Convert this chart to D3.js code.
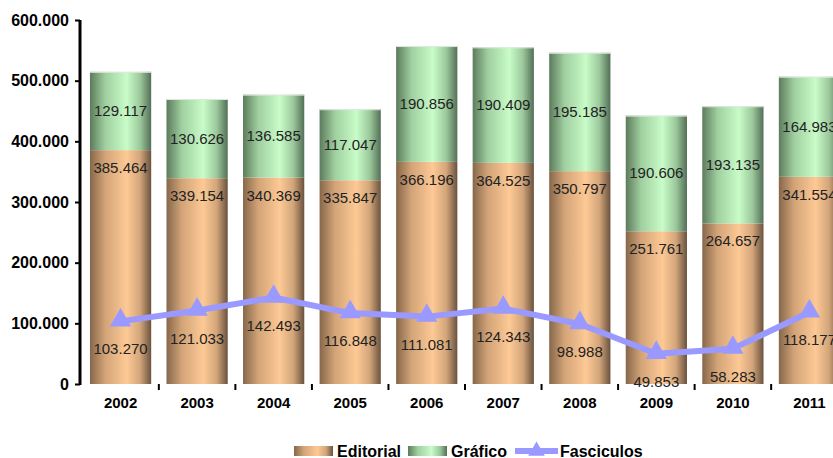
<!DOCTYPE html>
<html>
<head>
<meta charset="utf-8">
<script src="https://cdn.jsdelivr.net/npm/d3@7"></script>
<style>
body { margin: 0; background: #fff; }
text { font-family: "Liberation Sans", Arial, sans-serif; }
</style>
</head>
<body>
<div id="vis"></div>
<script>
var w = 833;
var h = 458;

var years = ["2002", "2003", "2004", "2005", "2006", "2007", "2008", "2009", "2010", "2011"];
var editorial = [385464, 339154, 340369, 335847, 366196, 364525, 350797, 251761, 264657, 341554];
var grafico = [129117, 130626, 136585, 117047, 190856, 190409, 195185, 190606, 193135, 164983];
var fasciculos = [103270, 121033, 142493, 116848, 111081, 124343, 98988, 49853, 58283, 118177];
var yticks = [0, 100000, 200000, 300000, 400000, 500000, 600000];
var series = ["Editorial", "Gráfico", "Fasciculos"];

var loc = d3.formatLocale({decimal: ",", thousands: ".", grouping: [3], currency: ["", ""]});
var fmt = loc.format(",d");

var svg = d3.select("#vis")
    .append("svg")
    .attr("width", w)
    .attr("height", h);

var defs = svg.append("defs");
function grad(id, stops) {
	var g = defs.append("linearGradient").attr("id", id)
		.attr("x1", 0).attr("x2", 1).attr("y1", 0).attr("y2", 0);
	stops.forEach(function(s) {
		g.append("stop").attr("offset", s[0]).attr("stop-color", s[1]);
	});
}
grad("gEd", [[0, "#86674a"], [0.25, "#d3a478"], [0.6, "#fdc995"], [0.82, "#d2a57a"], [1, "#6a523e"]]);
grad("gGr", [[0, "#5c7b5c"], [0.25, "#a0cfa0"], [0.6, "#c8fcc8"], [0.82, "#9cc89c"], [1, "#536f56"]]);

var x = d3.scaleBand()
	.domain(years)
	.range([80, 850])
	.paddingInner(0.2)
	.paddingOuter(0.13);

var y = d3.scaleLinear()
	.domain([0, 600000])
	.range([384, 20]);

var data = years.map(function(yr, i) {
	return {year: yr, ed: editorial[i], gr: grafico[i], fa: fasciculos[i]};
});

// bars
var g = svg.append("g");
g.selectAll(".ed")
	.data(data)
	.enter()
	.append("rect")
	.attr("x", function(d) { return x(d.year); })
	.attr("width", x.bandwidth())
	.attr("y", function(d) { return y(d.ed); })
	.attr("height", function(d) { return y(0) - y(d.ed); })
	.attr("fill", "url(#gEd)");

g.selectAll(".gr")
	.data(data)
	.enter()
	.append("rect")
	.attr("x", function(d) { return x(d.year); })
	.attr("width", x.bandwidth())
	.attr("y", function(d) { return y(d.ed + d.gr); })
	.attr("height", function(d) { return y(d.ed) - y(d.ed + d.gr); })
	.attr("fill", "url(#gGr)");

// top edge highlight
g.selectAll(".edge")
	.data(data)
	.enter()
	.append("line")
	.attr("x1", function(d) { return x(d.year); })
	.attr("x2", function(d) { return x(d.year) + x.bandwidth(); })
	.attr("y1", function(d) { return y(d.ed + d.gr) + 0.5; })
	.attr("y2", function(d) { return y(d.ed + d.gr) + 0.5; })
	.attr("stroke", "#dfe8df")
	.attr("stroke-width", 1);

// labels
g.selectAll(".lgr")
	.data(data)
	.enter()
	.append("text")
	.attr("x", function(d) { return x(d.year) + x.bandwidth() / 2; })
	.attr("y", function(d) { return (y(d.ed) + y(d.ed + d.gr)) / 2 + 5; })
	.attr("text-anchor", "middle")
	.style("font-size", "15px")
	.attr("fill", "#222")
	.text(function(d) { return fmt(d.gr); });

g.selectAll(".led")
	.data(data)
	.enter()
	.append("text")
	.attr("x", function(d) { return x(d.year) + x.bandwidth() / 2; })
	.attr("y", function(d) { return y(d.ed) + 23; })
	.attr("text-anchor", "middle")
	.style("font-size", "15px")
	.attr("fill", "#222")
	.text(function(d) { return fmt(d.ed); });

// line
var line = d3.line()
	.x(function(d) { return x(d.year) + x.bandwidth() / 2; })
	.y(function(d) { return y(d.fa); });

svg.append("path")
	.datum(data)
	.attr("d", line)
	.attr("fill", "none")
	.attr("stroke", "#9999ff")
	.attr("stroke-width", 6)
	.attr("stroke-linejoin", "round");

var tri = d3.symbol().type(d3.symbolTriangle).size(200);
svg.selectAll(".mk")
	.data(data)
	.enter()
	.append("path")
	.attr("d", tri)
	.attr("transform", function(d) { return "translate(" + (x(d.year) + x.bandwidth() / 2) + "," + (y(d.fa) - 1) + ")"; })
	.attr("fill", "#9999ff");

svg.selectAll(".lfa")
	.data(data)
	.enter()
	.append("text")
	.attr("x", function(d) { return x(d.year) + x.bandwidth() / 2; })
	.attr("y", function(d) { return y(d.fa) + 33; })
	.attr("text-anchor", "middle")
	.style("font-size", "15px")
	.attr("fill", "#222")
	.text(function(d) { return fmt(d.fa); });

// y axis
var yAxis = d3.axisLeft(y).tickValues(yticks).tickSize(5).tickFormat(function(d) { return fmt(d); });
var ya = svg.append("g")
	.attr("transform", "translate(80,0)")
	.call(yAxis);
ya.select(".domain").attr("stroke", "#000").attr("stroke-width", 3).attr("d", "M0,20V385");
ya.selectAll(".tick line").attr("stroke", "#000").attr("stroke-width", 2);
ya.selectAll(".tick text")
	.attr("x", -11)
	.style("font-size", "16px")
	.style("font-weight", "bold")
	.attr("fill", "#000")
	.style("font-family", "'Liberation Sans', Arial, sans-serif");

// x axis
var xa = svg.append("g")
	.attr("transform", "translate(0,384)")
	.call(d3.axisBottom(x).tickSize(0).tickPadding(13));
xa.select(".domain").remove();
xa.selectAll(".tick text")
	.style("font-size", "15px")
	.style("font-weight", "bold")
	.attr("fill", "#000")
	.style("font-family", "'Liberation Sans', Arial, sans-serif");

// separators between categories
var step = x.step();
svg.selectAll(".sep")
	.data(years.slice(1))
	.enter()
	.append("line")
	.attr("x1", function(d) { return x(d) - step * 0.1; })
	.attr("x2", function(d) { return x(d) - step * 0.1; })
	.attr("y1", 384)
	.attr("y2", 390)
	.attr("stroke", "#000")
	.attr("stroke-width", 2);

// legend
var lg = svg.append("g").attr("transform", "translate(0,451)");
var items = [
	{name: series[0], x: 294, type: "rect", fill: "url(#gEd)"},
	{name: series[1], x: 408, type: "rect", fill: "url(#gGr)"},
	{name: series[2], x: 515, type: "line"}
];
items.forEach(function(it) {
	if (it.type == "rect") {
		lg.append("rect").attr("x", it.x).attr("y", -5).attr("width", 39).attr("height", 10).attr("fill", it.fill);
	} else {
		lg.append("line").attr("x1", it.x).attr("x2", it.x + 43).attr("y1", 0).attr("y2", 0)
			.attr("stroke", "#9999ff").attr("stroke-width", 6);
		lg.append("path").attr("d", d3.symbol().type(d3.symbolTriangle).size(120))
			.attr("transform", "translate(" + (it.x + 21.5) + ",0)").attr("fill", "#9999ff");
	}
	lg.append("text")
		.attr("x", it.x + (it.type == "rect" ? 43 : 45))
		.attr("y", 6)
		.style("font-size", "16px")
		.style("font-weight", "bold")
		.attr("fill", "#000")
		.text(it.name);
});
</script>
</body>
</html>
